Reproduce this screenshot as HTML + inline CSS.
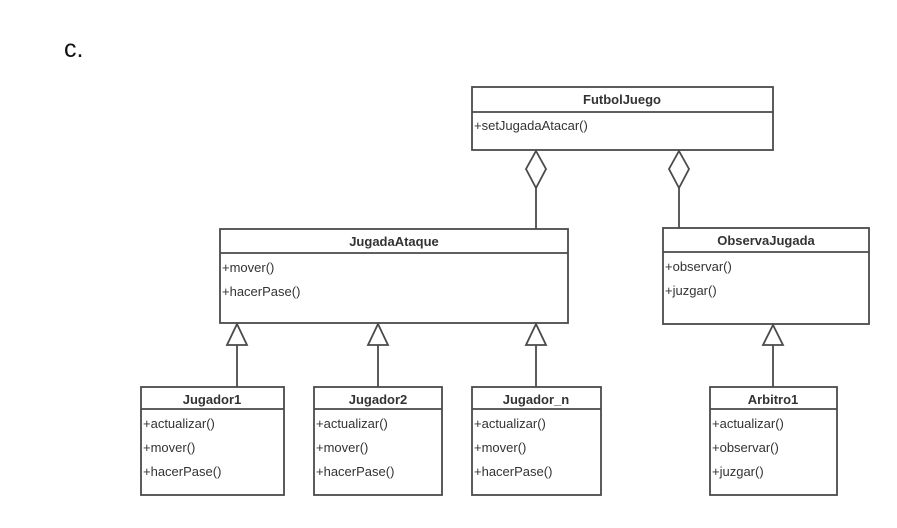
<!DOCTYPE html>
<html><head><meta charset="utf-8"><style>
body{margin:0;background:#fff;width:897px;height:523px;overflow:hidden}
</style></head><body>
<svg width="897" height="523" xmlns="http://www.w3.org/2000/svg" font-family="Liberation Sans, sans-serif">
<text x="64" y="57" font-size="25" fill="#111">c.</text>
<g stroke="#4a4a4a" stroke-width="1.8" fill="#fff">
<rect x="472" y="87" width="301" height="63"/><line x1="472" y1="112" x2="773" y2="112"/>
<rect x="220" y="229" width="348" height="94"/><line x1="220" y1="253" x2="568" y2="253"/>
<rect x="663" y="228" width="206" height="96"/><line x1="663" y1="252" x2="869" y2="252"/>
<rect x="141" y="387" width="143" height="108"/><line x1="141" y1="409" x2="284" y2="409"/>
<rect x="314" y="387" width="128" height="108"/><line x1="314" y1="409" x2="442" y2="409"/>
<rect x="472" y="387" width="129" height="108"/><line x1="472" y1="409" x2="601" y2="409"/>
<rect x="710" y="387" width="127" height="108"/><line x1="710" y1="409" x2="837" y2="409"/>
<line x1="536" y1="188" x2="536" y2="229"/><polygon points="536,151 546,169 536,188 526,169"/>
<line x1="679" y1="188" x2="679" y2="228"/><polygon points="679,151 689,169 679,188 669,169"/>
<line x1="237" y1="345" x2="237" y2="387"/><polygon points="237,324 247,345 227,345"/>
<line x1="378" y1="345" x2="378" y2="387"/><polygon points="378,324 388,345 368,345"/>
<line x1="536" y1="345" x2="536" y2="387"/><polygon points="536,324 546,345 526,345"/>
<line x1="773" y1="345" x2="773" y2="387"/><polygon points="773,325 783,345 763,345"/>
</g>
<g fill="#333" font-size="13">
<g font-weight="bold" text-anchor="middle">
<text x="622" y="104">FutbolJuego</text>
<text x="394" y="246">JugadaAtaque</text>
<text x="766" y="245">ObservaJugada</text>
<text x="212" y="404">Jugador1</text>
<text x="378" y="404">Jugador2</text>
<text x="536" y="404">Jugador_n</text>
<text x="773" y="404">Arbitro1</text>
</g>
<text x="474" y="130">+setJugadaAtacar()</text>
<text x="222" y="272">+mover()</text>
<text x="222" y="296">+hacerPase()</text>
<text x="665" y="271">+observar()</text>
<text x="665" y="295">+juzgar()</text>
<text x="143" y="428">+actualizar()</text><text x="143" y="452">+mover()</text><text x="143" y="476">+hacerPase()</text>
<text x="316" y="428">+actualizar()</text><text x="316" y="452">+mover()</text><text x="316" y="476">+hacerPase()</text>
<text x="474" y="428">+actualizar()</text><text x="474" y="452">+mover()</text><text x="474" y="476">+hacerPase()</text>
<text x="712" y="428">+actualizar()</text><text x="712" y="452">+observar()</text><text x="712" y="476">+juzgar()</text>
</g>
</svg>
</body></html>
